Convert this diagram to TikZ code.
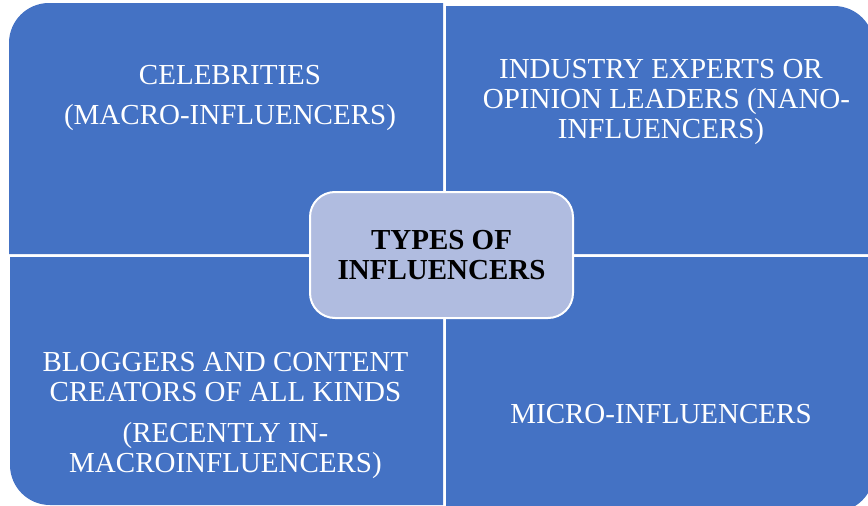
\documentclass[tikz,border=0pt]{standalone}
\usepackage{fontspec}
\setmainfont{Liberation Serif}
\definecolor{quadblue}{RGB}{68,114,196}
\definecolor{hubfill}{RGB}{176,188,224}
\begin{document}
\begin{tikzpicture}[x=1pt,y=-1pt,
  quad/.style={fill=quadblue},
  quadtext/.style={text=white, align=center, inner sep=0pt, anchor=base,
    font=\fontsize{29}{30}\selectfont},
  hub/.style={draw=white, line width=2pt, fill=hubfill, rounded corners=25pt,
    minimum width=263pt, minimum height=126pt, align=center, text=black,
    font=\fontsize{29}{30}\selectfont\bfseries}]
\useasboundingbox (0,0) rectangle (868,506);

% four quadrants, each with its outer corner rounded
\fill[quad] (443,254) -- (9,254) [rounded corners=40pt] -- (9,3) [sharp corners] -- (443,3) -- cycle;
\fill[quad] (446,254) -- (446,6) [rounded corners=40pt] -- (874,6) [sharp corners] -- (874,254) -- cycle;
\fill[quad] (443,257) -- (443,505) [rounded corners=40pt] -- (10,505) [sharp corners] -- (10,257) -- cycle;
\fill[quad] (446,257) -- (446,512) [rounded corners=40pt] -- (874,512) [sharp corners] -- (874,257) -- cycle;

% quadrant labels (anchored at the baseline of their last line)
\node[quadtext] (celeb) at (230,124.3) {CELEBRITIES\\[10pt](MACRO-INFLUENCERS)};
\node[quadtext] (experts) at (661,138.3) {INDUSTRY EXPERTS OR\\\hspace*{11pt}OPINION LEADERS (NANO-\\INFLUENCERS)};
\node[quadtext] (bloggers) at (225.5,472.7) {BLOGGERS AND CONTENT\\CREATORS OF ALL KINDS\\[11pt](RECENTLY IN-\\MACROINFLUENCERS)};
\node[quadtext] (micro) at (661,423.3) {MICRO-INFLUENCERS};

% central hub
\node[hub] (hub) at (441.5,255) {TYPES OF\\INFLUENCERS};
\end{tikzpicture}
\end{document}
